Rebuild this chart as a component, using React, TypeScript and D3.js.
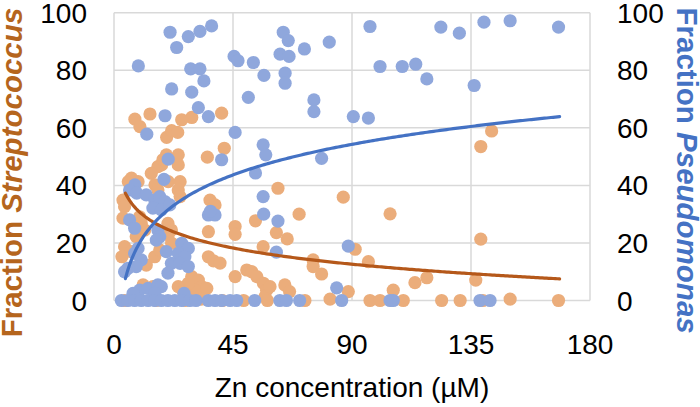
import React from 'react';
import * as d3 from 'd3';

const xTicks = [0, 45, 90, 135, 180];
const yTicks = [0, 20, 40, 60, 80, 100];

// [Zn concentration (µM), fraction %]
const streptococcus: [number, number][] = [
  [13.6, 64.8], [7.9, 63.0], [9.8, 60.4], [29.4, 63.6], [25.6, 62.8], [40.7, 65.1],
  [19.9, 56.7], [21.8, 59.0], [24.1, 58.4], [24.3, 50.6], [24.3, 47.1], [35.3, 49.8],
  [41.7, 52.9], [18.0, 47.1], [16.6, 46.5], [18.5, 48.9], [19.8, 50.6], [14.1, 44.2],
  [5.4, 41.3], [6.6, 42.5], [9.1, 41.3], [15.5, 40.2], [16.6, 38.4], [20.5, 41.3],
  [25.0, 41.3], [24.3, 38.4], [25.0, 36.1], [62.0, 39.0], [3.4, 34.9], [4.0, 32.6],
  [3.4, 28.6], [9.7, 29.1], [10.3, 26.8], [11.6, 24.5], [8.4, 22.2], [20.4, 26.8],
  [21.7, 24.5], [20.5, 22.8], [21.8, 19.9], [36.3, 34.9], [38.2, 33.2], [45.8, 25.7],
  [45.8, 23.0], [35.7, 23.9], [53.5, 27.7], [4.0, 18.7], [6.5, 17.0], [3.0, 15.2],
  [12.2, 12.3], [15.4, 15.2], [17.3, 17.6], [11.0, 5.4], [14.7, 4.8], [35.7, 15.2],
  [37.6, 13.8], [40.1, 13.0], [45.8, 8.3], [29.4, 8.3], [31.9, 7.1], [33.2, 4.8],
  [30.6, 3.6], [28.1, 6.0], [24.3, 4.8], [26.2, 3.1], [35.1, 4.2], [50.2, 10.6],
  [52.1, 10.0], [54.0, 8.3], [56.5, 6.0], [57.7, 3.6], [57.1, 1.3], [59.0, 4.8],
  [64.6, 5.4], [66.4, 3.1], [70.0, 30.0], [61.4, 23.6], [65.5, 21.4], [56.4, 18.7],
  [75.3, 14.1], [75.3, 11.8], [78.5, 9.2], [86.7, 35.9], [104.4, 30.1], [91.2, 17.8],
  [96.2, 13.5], [88.6, 3.1], [105.6, 3.6], [113.8, 6.2], [118.3, 7.9], [72.2, 0],
  [81.7, 0.5], [96.8, 0], [100.6, 0], [109.4, 0], [123.9, 0], [130.9, 0], [149.8, 0.5],
  [168.1, 0], [139.5, 0], [142.8, 58.9], [138.7, 53.5], [138.7, 21.3], [136.8, 7.1],
  [4.0, 0], [16.0, 0], [27.0, 0], [33.0, 0.5], [41.0, 0], [49.0, 0], [58.0, 0],
];

const pseudomonas: [number, number][] = [
  [21.2, 93.2], [23.7, 87.9], [28.1, 91.7], [32.5, 93.5], [36.9, 95.4], [9.2, 81.5],
  [29.0, 80.5], [32.5, 80.5], [34.0, 76.3], [21.8, 73.5], [29.4, 72.4], [31.9, 67.0],
  [19.3, 64.2], [35.7, 63.9], [12.4, 57.8], [45.8, 58.4], [45.4, 84.8], [46.9, 83.3],
  [52.7, 82.7], [56.7, 78.2], [50.8, 70.6], [56.4, 54.1], [57.4, 50.6], [53.5, 44.3],
  [20.5, 49.1], [40.7, 48.9], [18.9, 42.1], [7.9, 40.2], [64.0, 93.2], [65.9, 90.3],
  [62.8, 85.6], [66.2, 84.8], [72.0, 87.4], [81.4, 89.8], [64.7, 79.0], [64.7, 75.5],
  [75.6, 69.7], [75.6, 65.6], [96.8, 95.2], [100.6, 81.3], [109.0, 81.3], [114.1, 82.1],
  [118.3, 77.0], [123.6, 95.0], [130.6, 92.9], [136.2, 74.7], [90.5, 63.9], [96.2, 63.4],
  [78.5, 49.4], [139.9, 96.7], [149.8, 97.2], [168.1, 95.0], [56.4, 36.1], [56.6, 30.0],
  [62.0, 27.6], [61.4, 16.8], [88.6, 18.9], [84.2, 4.4], [5.9, 38.4], [8.6, 37.3],
  [12.2, 36.7], [15.4, 34.9], [17.3, 36.1], [19.2, 34.4], [14.7, 32.1], [17.9, 31.5],
  [21.1, 33.2], [5.9, 28.0], [7.8, 25.1], [16.6, 24.5], [17.3, 22.2], [16.0, 21.0],
  [9.1, 18.1], [7.8, 16.4], [10.3, 14.1], [8.4, 11.8], [5.3, 11.2], [4.0, 10.0],
  [19.8, 17.0], [21.7, 12.9], [20.4, 9.5], [9.7, 3.6], [12.9, 4.2], [16.6, 5.4],
  [17.9, 4.8], [15.4, 2.5], [7.2, 2.5], [25.6, 19.9], [28.1, 18.1], [24.3, 16.4],
  [26.8, 15.2], [25.0, 12.9], [28.1, 11.8], [35.7, 29.7], [38.2, 29.7], [36.5, 31.0],
  [26.5, 2.5], [2.8, 0], [5.3, 0], [7.8, 0], [10.3, 0], [12.9, 0], [15.4, 0], [17.9, 0],
  [20.4, 0], [23.0, 0], [25.6, 0], [28.7, 0], [31.0, 0], [35.7, 0], [38.2, 0], [40.7, 0],
  [43.9, 0], [46.4, 0], [53.2, 0], [62.7, 0], [65.2, 0], [70.2, 0], [86.1, 0], [104.4, 0],
  [105.6, 0], [138.4, 0], [142.2, 0],
];

// logarithmic trendlines y = a*ln(x) + b
const strepTrend = { a: -8.12, b: 49.15 };
const pseudoTrend = { a: 15.34, b: -14.77 };
const trendRange: [number, number] = [4.3, 168.5];

const FONT = "'Liberation Sans', Arial, sans-serif";
const ORANGE_PT = '#EBAD7B';
const BLUE_PT = '#8FA7DC';
const BROWN = '#B5581A';
const BLUE_LINE = '#4472C4';
const BROWN_TEXT = '#B5651D';

export default function App() {
  const W = 700, H = 407;
  const x = d3.scaleLinear().domain([0, 180]).range([114, 590]);
  const yL = d3.scaleLinear().domain([0, 100]).range([300.5, 12.7]);
  const yR = d3.scaleLinear().domain([0, 100]).range([300.5, 12.7]);

  const samples = d3.range(0, 201).map(i => trendRange[0] + (trendRange[1] - trendRange[0]) * i / 200);
  const lineL = d3.line<number>().x(d => x(d)).y(d => yL(strepTrend.a * Math.log(d) + strepTrend.b));
  const lineR = d3.line<number>().x(d => x(d)).y(d => yR(pseudoTrend.a * Math.log(d) + pseudoTrend.b));

  const r = 6.6;
  const midY = (yL(0) + yL(100)) / 2;

  return (
    <svg width={W} height={H} style={{ position: 'absolute', left: 0, top: 0, background: '#fff' }} fontFamily={FONT}>
      <rect width={W} height={H} fill="#fff" />
      <g stroke="#D9D9D9" strokeWidth={1.5}>
        {yTicks.map(t => (
          <line key={'h' + t} x1={x(0)} x2={x(180)} y1={yL(t)} y2={yL(t)} />
        ))}
        {xTicks.map(t => (
          <line key={'v' + t} x1={x(t)} x2={x(t)} y1={yL(0)} y2={yL(100)} />
        ))}
      </g>
      <g fill={ORANGE_PT}>
        {streptococcus.map((d, i) => <circle key={i} cx={x(d[0])} cy={yL(d[1])} r={r} />)}
      </g>
      <g fill={BLUE_PT}>
        {pseudomonas.map((d, i) => <circle key={i} cx={x(d[0])} cy={yR(d[1])} r={r} />)}
      </g>
      <path d={lineL(samples) || ''} fill="none" stroke={BROWN} strokeWidth={3.2} strokeLinecap="round" />
      <path d={lineR(samples) || ''} fill="none" stroke={BLUE_LINE} strokeWidth={3.2} strokeLinecap="round" />
      <g fontSize={28} fill="#000">
        {yTicks.map(t => (
          <text key={'l' + t} x={87} y={yL(t)} dy="0.36em" textAnchor="end">{t}</text>
        ))}
        {yTicks.map(t => (
          <text key={'r' + t} x={617} y={yR(t)} dy="0.36em" textAnchor="start">{t}</text>
        ))}
        {xTicks.map(t => (
          <text key={'x' + t} x={x(t)} y={354} textAnchor="middle">{t}</text>
        ))}
        <text x={(x(0) + x(180)) / 2} y={397} textAnchor="middle">Zn concentration (µM)</text>
      </g>
      <text transform={`translate(22,${midY + 16}) rotate(-90)`} textAnchor="middle" fontSize={29.5} fontWeight="bold" fill={BROWN_TEXT}>
        Fraction <tspan fontStyle="italic">Streptococcus</tspan>
      </text>
      <text transform={`translate(677,${midY + 14}) rotate(90)`} textAnchor="middle" fontSize={29.5} fontWeight="bold" fill={BLUE_LINE}>
        Fraction <tspan fontStyle="italic">Pseudomonas</tspan>
      </text>
    </svg>
  );
}
